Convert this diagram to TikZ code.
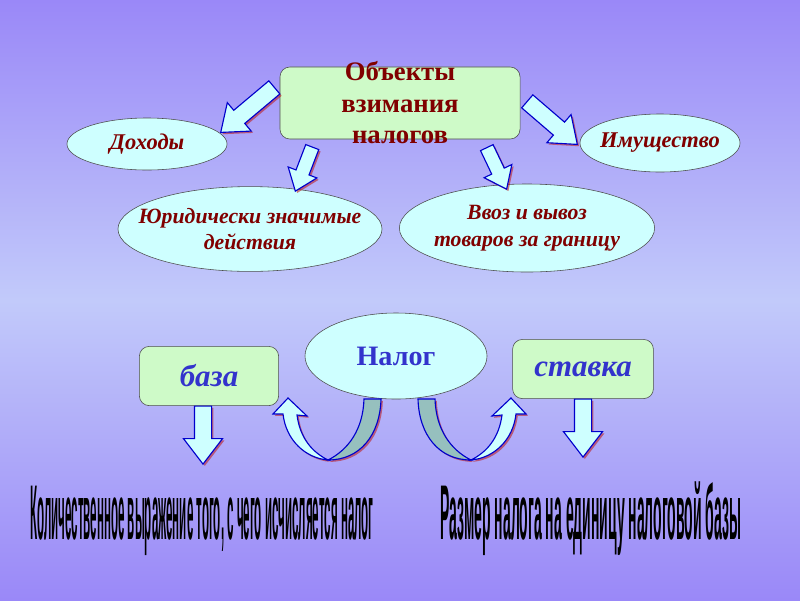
\documentclass[tikz,border=0pt]{standalone}
\usepackage{fontspec}
\setmainfont{Liberation Serif}
\newfontfamily\estreita{Liberation Sans}
\usepackage{tikz}
\usetikzlibrary{shapes.geometric,shapes.arrows,shadows}
\definecolor{corlilas}{RGB}{154,136,248}
\definecolor{corlilasclaro}{RGB}{194,202,250}
\definecolor{corverdeclaro}{RGB}{206,250,200}
\definecolor{corciano}{RGB}{206,255,255}
\definecolor{corcianoescuro}{RGB}{150,192,190}
\definecolor{corbordo}{RGB}{128,0,0}
\definecolor{corazul}{RGB}{51,51,204}
\definecolor{corborda}{RGB}{0,0,204}
\definecolor{corsombra}{RGB}{190,20,20}

\begin{document}
\begin{tikzpicture}[
  x=0.025cm, y=-0.025cm,
  caixa/.style={rectangle, rounded corners=7pt, draw=black!70, fill=corverdeclaro,
                inner sep=0pt, align=center},
  elipse/.style={ellipse, draw=black!70, fill=corciano, inner sep=-1.8cm, align=center,
                 font=\fontsize{15.5}{19}\selectfont\bfseries\itshape, text=corbordo},
  seta/.style={single arrow, draw=corborda, fill=corciano, line width=0.8pt,
               single arrow tip angle=75, single arrow head indent=0pt,
               inner xsep=0pt, anchor=tip,
               drop shadow={shadow xshift=1.3pt, shadow yshift=-1.3pt,
                            fill=corsombra, opacity=.55}},
  fita/.style={draw=corborda, line width=0.8pt,
               drop shadow={shadow xshift=1.3pt, shadow yshift=-1.3pt,
                            fill=corsombra, opacity=.55}},
  rotulo/.style={font=\fontsize{12}{14}\selectfont\estreita\bfseries, text=black, inner sep=0pt}
]
  \shade[top color=corlilas, bottom color=corlilas, middle color=corlilasclaro]
    (0,0) rectangle (800,600);

  \node[caixa, minimum width=6cm, minimum height=1.8cm, inner ysep=-0.4cm,
        font=\fontsize{19}{22.4}\selectfont\bfseries, text=corbordo]
    (obj) at (400,103) {Объекты\\взимания\\налогов};
  \node[elipse, minimum width=4cm, minimum height=1.3cm, font=\fontsize{16}{19}\selectfont\bfseries\itshape]
    (doh) at (147,144) {Доходы};
  \node[elipse, minimum width=4cm, minimum height=1.45cm, font=\fontsize{16}{19}\selectfont\bfseries\itshape]
    (imu) at (660,143) {Имущество};
  \node[elipse, minimum width=6.6cm, minimum height=2.12cm] (jur) at (250,229)
    {Юридически значимые\\действия};
  \node[elipse, minimum width=6.38cm, minimum height=2.2cm] (vvoz) at (527,228)
    {Ввоз и вывоз\\товаров за границу};

  \node[seta, rotate=220, minimum height=1.75cm, minimum width=0.9cm, inner ysep=0.2cm,
        single arrow head extend=0.25cm] (s1) at (220,133) {};
  \node[seta, rotate=249, minimum height=1.18cm, minimum width=0.75cm, inner ysep=0.16cm,
        single arrow head extend=0.21cm] (s2) at (295,192) {};
  \node[seta, rotate=295.5, minimum height=1.15cm, minimum width=0.75cm, inner ysep=0.16cm,
        single arrow head extend=0.21cm] (s3) at (507,190) {};
  \node[seta, rotate=319.3, minimum height=1.65cm, minimum width=0.9cm, inner ysep=0.2cm,
        single arrow head extend=0.25cm] (s4) at (578,145) {};

  \node[ellipse, draw=black!70, fill=corciano, inner sep=-1.5cm, minimum width=4.55cm,
        minimum height=2.15cm, font=\fontsize{20}{22}\selectfont\bfseries, text=corazul]
    (nalog) at (396,356) {Налог};
  \node[caixa, minimum width=3.48cm, minimum height=1.48cm,
        font=\fontsize{22}{24}\selectfont\bfseries\itshape, text=corazul]
    (baza) at (209,376) {база};
  \node[caixa, minimum width=3.52cm, minimum height=1.48cm,
        font=\fontsize{22}{24}\selectfont\bfseries\itshape, text=corazul]
    (stavka) at (583,369) {ставка};

  \node[seta, rotate=270, minimum height=1.45cm, minimum width=0.95cm, inner ysep=0.2cm,
        single arrow head extend=0.275cm] (s5) at (203,465) {};
  \node[seta, rotate=270, minimum height=1.45cm, minimum width=0.95cm, inner ysep=0.2cm,
        single arrow head extend=0.275cm] (s6) at (583,458) {};

  \fill[fita, fill=corcianoescuro] (364,399) -- (381,399)
    .. controls (380,435) and (360,460) .. (328,460)
    .. controls (348,450) and (363,430) .. cycle;
  \fill[fita, fill=corciano] (328,460) .. controls (305,458) and (286,440) .. (283,414)
    -- (273,414) -- (288,398) -- (307,416) -- (297,415)
    .. controls (300,438) and (312,452) .. cycle;
  \fill[fita, fill=corcianoescuro] (435,399) -- (418,399)
    .. controls (419,435) and (439,460) .. (471,460)
    .. controls (451,450) and (436,430) .. cycle;
  \fill[fita, fill=corciano] (471,460) .. controls (494,458) and (513,440) .. (516,414)
    -- (526,414) -- (511,398) -- (492,416) -- (502,415)
    .. controls (499,438) and (487,452) .. cycle;

  \node[rotulo] (quant) at (202,521)
    {\scalebox{0.686}[4.6]{Количественное выражение того, с чего исчисляется налог}};
  \node[rotulo] (razmer) at (591,519)
    {\scalebox{0.83}[4.6]{Размер налога на единицу налоговой базы}};
\end{tikzpicture}
\end{document}
